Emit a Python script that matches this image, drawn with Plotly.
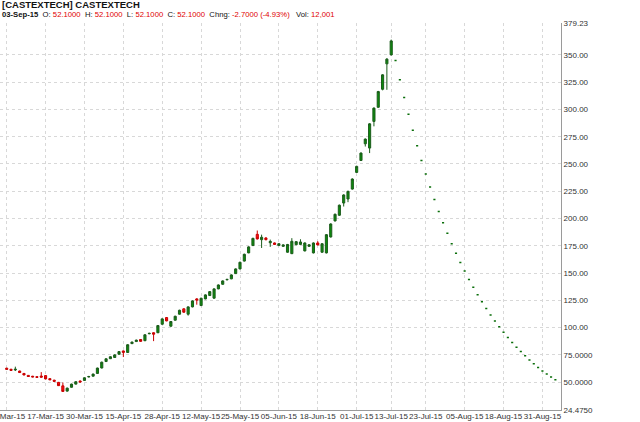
import pandas as pd
import plotly.graph_objects as go

# trading calendar (NSE holidays in the window removed)
holidays = ["2015-03-06", "2015-04-02", "2015-04-03", "2015-04-14", "2015-05-01"]
dates = pd.bdate_range("2015-03-03", "2015-09-03", freq="C", holidays=holidays)
date_labels = [d.strftime("%d-%b-%y") for d in dates]

# rally phase
open_ = [62.8, 61.8, 61.2, 60.2, 58.0, 56.2, 55.4, 55.0, 55.6, 56.0,
         53.2, 51.8, 49.8, 46.6, 41.8, 45.3, 48.2, 51.0, 51.6, 54.8,
         55.5, 58.0, 63.0, 68.9, 71.5, 72.6, 75.6, 78.6, 77.2, 85.3,
         87.2, 89.1, 88.0, 94.4, 95.3, 95.3, 103.1, 109.2, 101.3, 106.8,
         112.3, 117.2, 112.3, 119.0, 126.3, 120.2, 126.3, 129.4, 127.0, 135.5,
         139.7, 143.8, 144.7, 149.5, 153.8, 161.0, 168.5, 175.2, 185.5, 180.6,
         182.2, 177.8, 177.6, 175.2, 174.5, 169.1, 167.8, 176.0, 176.3, 170.3,
         174.5, 168.5, 177.6, 169.1, 168.5, 183.1, 197.8, 203.0, 214.2, 217.9,
         227.0, 242.3, 253.2, 268.5, 264.6, 289.0, 302.0, 318.5, 341.8, 350.0]
high = [63.2, 62.2, 64.2, 60.5, 58.3, 56.5, 55.8, 55.4, 59.2, 56.4,
        53.5, 52.2, 50.2, 49.7, 45.0, 48.6, 50.8, 51.6, 54.4, 55.8,
        57.8, 63.3, 68.8, 71.8, 73.7, 75.5, 78.4, 79.0, 84.8, 87.2,
        89.0, 89.5, 93.9, 95.3, 95.7, 102.4, 108.5, 109.7, 106.0, 110.9,
        116.4, 117.6, 119.5, 125.0, 127.0, 127.4, 130.5, 133.5, 136.0, 139.6,
        143.3, 144.6, 148.8, 154.3, 160.4, 167.8, 174.6, 182.4, 189.0, 185.2,
        182.8, 180.7, 178.0, 177.4, 176.3, 176.7, 182.0, 179.3, 181.0, 178.1,
        176.4, 178.1, 179.2, 177.4, 185.8, 195.6, 204.5, 212.8, 222.2, 225.5,
        236.8, 248.4, 260.6, 273.4, 287.4, 301.8, 317.0, 332.3, 347.0, 364.0]
low = [61.5, 60.5, 60.2, 58.5, 56.3, 55.0, 54.5, 54.2, 54.3, 52.6,
       51.9, 50.5, 46.5, 41.1, 41.3, 45.0, 47.9, 49.6, 51.3, 54.4,
       55.2, 57.6, 62.6, 68.5, 71.2, 72.3, 75.3, 73.0, 76.8, 85.0,
       86.9, 87.0, 87.6, 93.9, 87.6, 95.0, 102.7, 105.8, 100.9, 106.5,
       112.0, 113.7, 111.0, 118.6, 121.0, 119.8, 126.0, 129.0, 126.5, 135.2,
       139.4, 143.4, 144.4, 149.2, 153.5, 160.6, 168.2, 174.8, 180.8, 173.0,
       180.0, 174.0, 175.8, 174.8, 174.0, 168.6, 167.4, 175.6, 175.8, 169.9,
       174.0, 168.0, 175.4, 168.6, 168.0, 182.6, 197.3, 202.5, 211.0, 215.0,
       226.5, 241.8, 252.7, 266.0, 260.0, 284.5, 301.5, 317.5, 318.0, 349.5]
close = [61.8, 60.8, 61.8, 58.8, 56.6, 55.2, 54.8, 54.4, 54.6, 53.0,
         52.2, 50.8, 46.8, 41.5, 44.5, 48.2, 50.4, 50.2, 54.0, 55.1,
         57.4, 62.9, 68.3, 71.4, 73.3, 75.0, 78.0, 77.3, 84.3, 86.7,
         88.5, 87.4, 93.4, 94.7, 94.0, 101.9, 108.0, 106.2, 105.6, 110.4,
         115.9, 114.1, 119.0, 124.5, 125.2, 126.9, 130.0, 133.0, 135.5, 139.1,
         142.8, 144.2, 148.3, 153.8, 159.9, 167.2, 174.0, 181.8, 181.3, 182.8,
         180.6, 179.0, 176.3, 176.9, 175.8, 176.2, 179.1, 178.8, 178.5, 177.6,
         175.9, 177.6, 175.8, 176.9, 185.2, 195.0, 203.9, 212.2, 221.6, 224.9,
         236.2, 247.8, 260.0, 272.8, 286.8, 301.2, 316.4, 331.7, 346.1, 362.8]

# lower-circuit days after the peak: open = high = low = close
circuit_close = [344.8, 327.3, 311.0, 295.6, 281.0, 266.8, 253.3, 240.8, 228.8, 217.5,
                 206.4, 196.2, 186.4, 176.9, 168.1, 159.7, 151.8, 144.2, 137.0, 130.2,
                 123.7, 117.6, 111.6, 106.0, 100.7, 95.7, 90.9, 86.4, 82.1, 78.0,
                 74.1, 70.4, 66.9, 63.5, 60.3, 57.4, 54.8, 52.1]

tick_dates = ["03-Mar-15", "17-Mar-15", "30-Mar-15", "15-Apr-15", "28-Apr-15",
              "12-May-15", "25-May-15", "05-Jun-15", "18-Jun-15", "01-Jul-15",
              "13-Jul-15", "23-Jul-15", "05-Aug-15", "18-Aug-15", "31-Aug-15"]
y_ticks = [24.475, 50, 75, 100, 125, 150, 175, 200, 225, 250, 275, 300, 325, 350, 379.23]
y_tick_text = ["24.4750", "50.0000", "75.0000", "100.00", "125.00", "150.00", "175.00",
               "200.00", "225.00", "250.00", "275.00", "300.00", "325.00", "350.00", "379.23"]

GREEN_FILL = "#0b8c0b"
GREEN_LINE = "#1c5c1c"
RED_FILL = "#ff1010"
RED_LINE = "#c80000"

n_up = len(close)
fig = go.Figure()

fig.add_trace(
    go.Candlestick(
        x=date_labels[:n_up],
        open=open_, high=high, low=low, close=close,
        increasing=dict(fillcolor=GREEN_FILL, line=dict(color=GREEN_LINE, width=1)),
        decreasing=dict(fillcolor=RED_FILL, line=dict(color=RED_LINE, width=1)),
        showlegend=False,
    )
)

fig.add_trace(
    go.Candlestick(
        x=date_labels[n_up:],
        open=circuit_close, high=circuit_close, low=circuit_close, close=circuit_close,
        increasing=dict(fillcolor=GREEN_FILL, line=dict(color="#0a6e0a", width=1.5)),
        decreasing=dict(fillcolor=GREEN_FILL, line=dict(color="#0a6e0a", width=1.5)),
        showlegend=False,
    )
)

red = lambda s: f"<span style='color:#e00000'>{s}</span>"
sp = "\u00a0\u00a0"
header_1 = "<b>[CASTEXTECH] CASTEXTECH</b>"
header_2 = (
    f"<b>03-Sep-15</b>{sp}O: {red('52.1000')}{sp}H: {red('52.1000')}{sp}"
    f"L: {red('52.1000')}{sp}C: {red('52.1000')}{sp}"
    f"Chng: {red('-2.7000 (-4.93%)')}{sp}\u00a0Vol: {red('12,001')}"
)

fig.add_annotation(text=header_1, xref="paper", yref="paper", x=0, y=1.047,
                   xanchor="left", yanchor="middle", showarrow=False,
                   font=dict(size=9.5, color="#111"))
fig.add_annotation(text=header_2, xref="paper", yref="paper", x=0, y=1.021,
                   xanchor="left", yanchor="middle", showarrow=False,
                   font=dict(size=7.7, color="#111"))

fig.update_layout(
    width=640,
    height=422,
    margin=dict(l=0, r=79, t=23, b=12),
    paper_bgcolor="white",
    plot_bgcolor="white",
    font=dict(family="Liberation Sans, Arial, sans-serif", size=8, color="#333"),
    xaxis=dict(
        type="category",
        categoryorder="array",
        categoryarray=date_labels,
        range=[-1.55, len(date_labels) + 0.3],
        rangeslider=dict(visible=False),
        tickvals=tick_dates,
        ticktext=tick_dates,
        tickangle=0,
        automargin=False,
        ticklabelstandoff=-2,
        showgrid=True,
        gridcolor="#d8d8d8",
        griddash="dot",
        showline=True,
        linecolor="#9a9a9a",
        ticks="",
        tickfont=dict(size=8, color="#333"),
        fixedrange=True,
    ),
    yaxis=dict(
        side="right",
        range=[24.475, 379.23],
        tickvals=y_ticks,
        ticktext=y_tick_text,
        automargin=False,
        showgrid=True,
        gridcolor="#d8d8d8",
        griddash="dot",
        showline=True,
        linecolor="#9a9a9a",
        ticks="",
        zeroline=False,
        tickfont=dict(size=8, color="#333"),
        fixedrange=True,
    ),
)

fig.write_html(
    "out.html",
    config={"displayModeBar": False},
    post_script="document.body.style.margin='0';",
)
